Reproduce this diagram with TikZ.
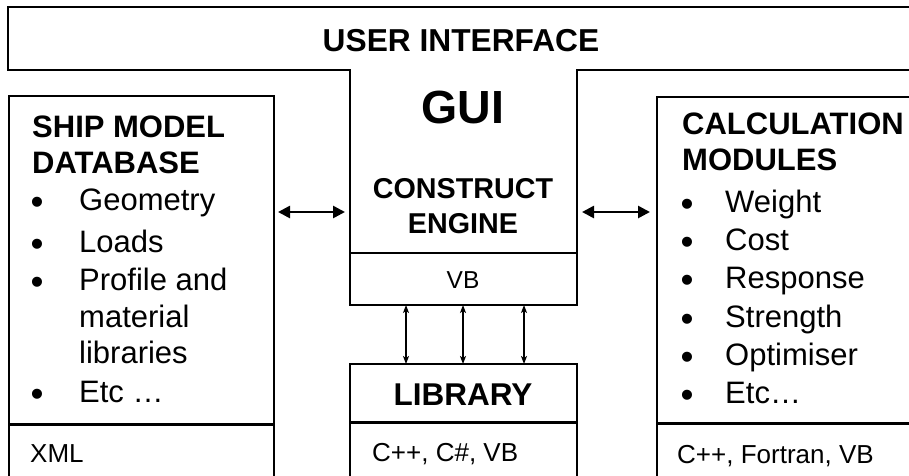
\documentclass[tikz,border=0pt]{standalone}
\usepackage{fontspec}
\setmainfont{Liberation Sans}
\usetikzlibrary{arrows.meta,calc}
\newcommand\fsz[1]{\fontsize{#1pt}{#1pt}\selectfont}
\begin{document}
\begin{tikzpicture}[x=1pt,y=-1pt,
  frame/.style={draw, line width=1.7pt},
  box/.style={frame, rectangle, inner sep=0pt, outer sep=0pt, anchor=north west},
  area/.style={rectangle, inner sep=0pt, outer sep=0pt, anchor=north west},
  divider/.style={line width=3pt},
  thindiv/.style={line width=1.7pt},
  txt/.style={inner sep=0pt, anchor=base west},
  ctxt/.style={inner sep=0pt, anchor=base},
  body/.style={txt, font=\fsz{31}},
  head/.style={txt, font=\fsz{31}\bfseries},
  small/.style={txt, font=\fsz{26}},
  bul/.style={ctxt, font=\fsz{37}, yshift=-4.5pt},
  bigarrow/.style={line width=2.6pt, {Triangle[length=12pt,width=12pt]}-{Triangle[length=12pt,width=12pt]}},
  thinarrow/.style={line width=1.3pt, {Stealth[length=8pt,width=6pt,inset=2pt]}-{Stealth[length=8pt,width=6pt,inset=2pt]}}
]
\useasboundingbox (0,0) rectangle (909,475);
\begin{scope}
\clip (0,0) rectangle (909,475);
% user interface outline with GUI column
\draw[frame] (920,7) -- (8,7) -- (8,70) -- (350,70) -- (350,305) -- (577,305) -- (577,70) -- (920,70);
\node[area, minimum width=227pt, minimum height=235pt] (gui) at (350,70) {};
% boxes
\node[box, minimum width=265pt, minimum height=420pt] (ship) at (9,96) {};
\node[box, minimum width=227pt, minimum height=140pt] (lib) at (350,364) {};
\node[box, minimum width=300pt, minimum height=420pt] (calc) at (657,97) {};
% helper coordinates
\coordinate (dl) at (0,424);
\coordinate (dm) at (0,422);
\coordinate (dr) at (0,423);
\coordinate (vbl) at (0,253);
\coordinate (ay) at (0,212);
% dividers
\draw[divider] (ship.west |- dl) -- (ship.east |- dl);
\draw[divider] (lib.west |- dm) -- (lib.east |- dm);
\draw[divider] (calc.west |- dr) -- (calc.east |- dr);
\draw[thindiv] (gui.west |- vbl) -- (gui.east |- vbl);
% arrows
\draw[bigarrow] ($(ship.east |- ay)+(4,0)$) -- ($(gui.west |- ay)+(-5,0)$);
\draw[bigarrow] ($(gui.east |- ay)+(5,0)$) -- ($(calc.west |- ay)+(-7,0)$);
\draw[thinarrow] ($(gui.south)+(-57.5,0)$) -- ($(lib.north)+(-57.5,0)$);
\draw[thinarrow] ($(gui.south)+(-0.5,0)$) -- ($(lib.north)+(-0.5,0)$);
\draw[thinarrow] ($(gui.south)+(60.5,0)$) -- ($(lib.north)+(60.5,0)$);
\end{scope}
% texts
\node[ctxt, font=\fsz{31.7}\bfseries] (uitxt) at (461,51) {USER INTERFACE};
\node[ctxt, font=\fsz{46.5}\bfseries] (guitxt) at (463,123) {GUI};
\node[ctxt, font=\fsz{28.7}\bfseries] (con1) at (463,198) {CONSTRUCT};
\node[ctxt, font=\fsz{28.7}\bfseries] (con2) at (463,233) {ENGINE};
\node[ctxt, font=\fsz{24.5}] (vbtxt) at (463,288) {VB};
\node[ctxt, font=\fsz{31.5}\bfseries] (libtxt) at (463,405) {LIBRARY};
\node[small] (libl) at (372,461) {C++, C\#, VB};
\node[small] (xml) at (30,462) {XML};
\node[small] (calcl) at (677,463) {C++, Fortran, VB};
% left box
\node[head] (h1) at (32,137) {SHIP MODEL};
\node[head] (h2) at (32,173) {DATABASE};
\node[bul] (b1) at (37,210) {•};
\node[bul] (b2) at (37,252) {•};
\node[bul] (b3) at (37,290) {•};
\node[bul] (b4) at (37,402) {•};
\node[body] (i1) at (79,210) {Geometry};
\node[body] (i2) at (79,252) {Loads};
\node[body] (i3) at (79,290) {Profile and};
\node[body] (i3b) at (79,327) {material};
\node[body] (i3c) at (79,363) {libraries};
\node[body] (i4) at (79,402) {Etc …};
% right box
\node[head] (r1) at (682,134) {CALCULATION};
\node[head] (r2) at (682,170) {MODULES};
\node[bul] (c1) at (687,212) {•};
\node[bul] (c2) at (687,250) {•};
\node[bul] (c3) at (687,288) {•};
\node[bul] (c4) at (687,327) {•};
\node[bul] (c5) at (687,365) {•};
\node[bul] (c6) at (687,403) {•};
\node[body] (j1) at (725,212) {Weight};
\node[body] (j2) at (725,250) {Cost};
\node[body] (j3) at (725,288) {Response};
\node[body] (j4) at (725,327) {Strength};
\node[body] (j5) at (725,365) {Optimiser};
\node[body] (j6) at (725,403) {Etc…};
\end{tikzpicture}
\end{document}
